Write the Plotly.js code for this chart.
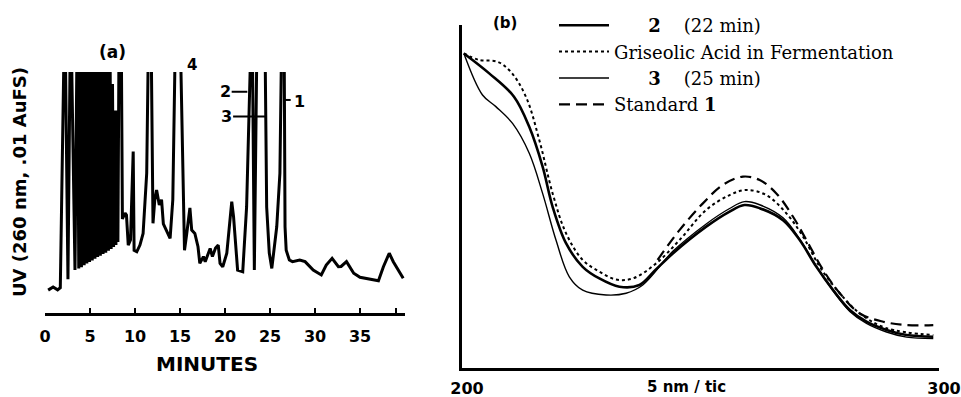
<!DOCTYPE html>
<html><head><meta charset="utf-8">
<script src="https://cdn.plot.ly/plotly-3.0.1.min.js"></script>
<style>html,body{margin:0;padding:0;background:#fff}#chart{width:961px;height:397px}</style>
</head><body><div id="chart"></div>
<script>
// Panel (a): chromatogram, UV at 260 nm vs minutes (off-scale peaks read as >100)
const timeA = [0.35,0.9,1.4,1.7,2.2,2.55,2.85,3.05,3.33,3.6,3.75,3.9,4.05,4.2,4.35,4.5,4.65,4.8,4.95,5.1,5.25,5.4,5.55,5.7,5.85,6.0,6.15,6.3,6.45,6.6,6.75,6.9,7.05,7.2,7.35,7.5,7.62,7.75,7.88,8.0,8.1,8.25,8.45,8.6,8.9,9.05,9.25,9.5,9.8,9.9,10.2,10.55,10.9,11.3,11.55,11.75,12.0,12.2,12.4,12.7,12.95,13.15,13.5,13.9,14.2,14.55,14.95,15.5,15.75,16.1,16.3,16.65,17.0,17.2,17.6,17.8,18.35,18.6,18.95,19.25,19.45,19.75,20.2,20.75,20.95,21.4,21.97,22.4,23.0,23.26,23.6,24.4,24.63,24.92,25.2,25.75,26.1,26.35,26.55,26.67,26.8,27.15,27.5,28.3,28.9,29.8,30.7,31.25,31.9,32.6,32.9,33.5,34.3,35.0,37.05,37.6,38.25,38.7,39.8];
const uvA = [9.5,10.8,9.6,10.5,130,14,130,76,17.8,130,18.5,130,19,130,19.8,130,20.5,130,21.2,130,21.8,130,22.5,130,23.2,130,23.8,130,24.5,130,25,130,25.8,130,26.6,95,27.4,84,28.2,84,29.5,130,130,39,41.5,40.7,28.2,30.3,67,26,25.4,28.2,33,58,130,130,37.2,47,51,44.8,47,37,34.4,31,47,130,130,26,33,43.6,34.4,33,27.5,20.6,23.4,21.3,26.8,23.4,27,28.2,20.6,19.2,24.8,46.2,40,17.8,17.1,44,130,17.8,130,130,44,24.9,18.5,35.8,58,130,130,35.8,26,22,21.3,22,21.3,17.8,15.8,19.9,22.7,19.2,19.3,21.3,16.5,14.8,13.4,19.2,24.8,21.3,14.4];
const tickValsA = [0,5,10,15,20,25,30,35,39];
const tickTextA = ['0','5','10','15','20','25','30','35',''];

// Panel (b): UV spectra, wavelength (nm) vs absorbance (arbitrary)
const wl2 = [200.4,205.7,210.9,214.1,216.9,219.0,221.8,225.3,228.8,233.0,237.2,240.5,244.2,251.2,256.1,259.2,262.4,267.3,270.8,274.3,277.8,281.3,284.8,289.0,293.2,298.8];
const abs2 = [0.917,0.859,0.791,0.703,0.587,0.470,0.364,0.295,0.261,0.237,0.242,0.285,0.334,0.412,0.456,0.475,0.466,0.431,0.373,0.295,0.227,0.169,0.135,0.111,0.096,0.091];
const wlG = [200.4,203.6,207.4,210.2,213.4,216.2,219.0,221.8,225.3,228.8,232.3,235.8,240.7,245.6,251.2,256.1,259.6,263.8,268.0,271.5,275.0,279.2,283.4,289.0,298.8];
const absG = [0.917,0.898,0.893,0.864,0.791,0.665,0.509,0.393,0.315,0.281,0.258,0.261,0.305,0.373,0.461,0.504,0.519,0.504,0.451,0.383,0.295,0.218,0.159,0.116,0.096];
const wl3 = [200.4,204.3,207.1,210.6,214.1,216.9,219.7,222.5,225.3,230.2,234.4,237.9,244.2,251.2,256.1,259.2,262.4,267.3,270.8,274.3,277.8,281.3,284.8,289.0,293.2,298.8];
const abs3 = [0.917,0.796,0.762,0.713,0.626,0.509,0.373,0.266,0.227,0.213,0.218,0.242,0.340,0.420,0.465,0.485,0.476,0.438,0.376,0.296,0.225,0.165,0.130,0.105,0.090,0.086];
const wl1 = [241.0,245.6,250.5,254.7,258.9,262.4,265.9,269.4,272.2,275.7,279.2,283.4,288.3,293.2,298.8];
const abs1 = [0.315,0.402,0.480,0.534,0.558,0.548,0.509,0.441,0.373,0.286,0.218,0.159,0.135,0.125,0.125];
const names = ['\u00a0\u00a0\u00a0\u00a0\u00a0\u00a0<b>2</b>\u00a0\u00a0\u00a0\u00a0(22 min)',
               'Griseolic Acid in Fermentation',
               '\u00a0\u00a0\u00a0\u00a0\u00a0\u00a0<b>3</b>\u00a0\u00a0\u00a0\u00a0(25 min)',
               'Standard <b>1</b>'];

const bold = {family:'DejaVu Sans', weight:700, color:'#000'};
const F = s => Object.assign({size:s}, bold);
const traces = [
  {x:timeA, y:uvA, xaxis:'x', yaxis:'y', mode:'lines', line:{color:'#000', width:3}, showlegend:false, hoverinfo:'skip'},
  {x:wl2, y:abs2, xaxis:'x2', yaxis:'y2', mode:'lines', name:names[0], line:{color:'#000', width:2.6, shape:'spline'}},
  {x:wlG, y:absG, xaxis:'x2', yaxis:'y2', mode:'lines', name:names[1], line:{color:'#000', width:2, dash:'3px,3px', shape:'spline'}},
  {x:wl3, y:abs3, xaxis:'x2', yaxis:'y2', mode:'lines', name:names[2], line:{color:'#000', width:1.4, shape:'spline'}},
  {x:wl1, y:abs1, xaxis:'x2', yaxis:'y2', mode:'lines', name:names[3], line:{color:'#000', width:2.2, dash:'11px,6px', shape:'spline'}}
];

const layout = {
  width:961, height:397, margin:{l:0,r:0,t:0,b:0},
  paper_bgcolor:'#fff', plot_bgcolor:'rgba(0,0,0,0)',
  showlegend:true,
  legend:{x:554/961, xanchor:'left', y:1-7/397, yanchor:'top', bgcolor:'rgba(0,0,0,0)', borderwidth:0,
          font:{family:'DejaVu Serif', size:18, color:'#000'}, itemwidth:50, tracegroupgap:0},
  xaxis:{domain:[45/961,405/961], range:[0,40], anchor:'y', showline:true, linewidth:3, linecolor:'#000',
         showgrid:false, zeroline:false, ticks:'inside', ticklen:5, tickwidth:2, tickcolor:'#000',
         tickmode:'array', tickvals:tickValsA, ticktext:tickTextA, tickfont:F(16), ticklabelstandoff:7},
  yaxis:{domain:[1-313/397,1-72/397], range:[0,100], anchor:'x', showline:false, showgrid:false, zeroline:false,
         showticklabels:false, ticks:''},
  xaxis2:{domain:[462/961,939/961], range:[200,300], anchor:'y2', showline:true, linewidth:3, linecolor:'#000',
          showgrid:false, zeroline:false, ticks:'inside', ticklen:9, tickwidth:2.5, tickcolor:'#000',
          tickmode:'array', tickvals:[200,300], ticktext:['200','300'], tickfont:F(16),
          ticklabelstandoff:4, ticklabelshift:5},
  yaxis2:{domain:[1-368/397,1-25/397], range:[0,1], anchor:'x2', showline:true, linewidth:3, linecolor:'#000',
          showgrid:false, zeroline:false, showticklabels:false, ticks:''},
  annotations:[
    {xref:'paper', yref:'paper', x:20/961, y:1-182/397, text:'UV (260 nm, .01 AuFS)', textangle:-90, showarrow:false,
     font:F(18), xanchor:'center', yanchor:'middle'},
    {xref:'paper', yref:'paper', x:207/961, y:1-364/397, text:'MINUTES', showarrow:false,
     font:F(20), xanchor:'center', yanchor:'middle'},
    {xref:'paper', yref:'paper', x:112/961, y:1-52/397, text:'(a)', showarrow:false, font:F(17), xanchor:'center', yanchor:'middle'},
    {xref:'paper', yref:'paper', x:192/961, y:1-65/397, text:'4', showarrow:false, font:F(15), xanchor:'center', yanchor:'middle'},
    {xref:'x', yref:'y', x:20.0, y:91.8, text:'2', showarrow:false, font:F(16), xanchor:'center', yanchor:'middle'},
    {xref:'x', yref:'y', x:20.2, y:81.5, text:'3', showarrow:false, font:F(16), xanchor:'center', yanchor:'middle'},
    {xref:'x', yref:'y', x:28.3, y:87.7, text:'1', showarrow:false, font:F(16), xanchor:'center', yanchor:'middle'},
    {xref:'paper', yref:'paper', x:505/961, y:1-23/397, text:'(b)', showarrow:false, font:F(15), xanchor:'center', yanchor:'middle'},
    {xref:'paper', yref:'paper', x:686/961, y:1-387/397, text:'5 nm / tic', showarrow:false, font:F(15), xanchor:'center', yanchor:'middle'}
  ],
  shapes:[
    {type:'line', xref:'x', yref:'y', x0:20.74, x1:22.48, y0:91.8, y1:91.8, line:{color:'#000', width:2}},
    {type:'line', xref:'x', yref:'y', x0:20.9, x1:24.55, y0:81.5, y1:81.5, line:{color:'#000', width:2}},
    {type:'line', xref:'x', yref:'y', x0:26.67, x1:27.3, y0:88.4, y1:88.4, line:{color:'#000', width:2}}
  ]
};
Plotly.newPlot('chart', traces, layout, {staticPlot:true, displayModeBar:false});
</script></body></html>
